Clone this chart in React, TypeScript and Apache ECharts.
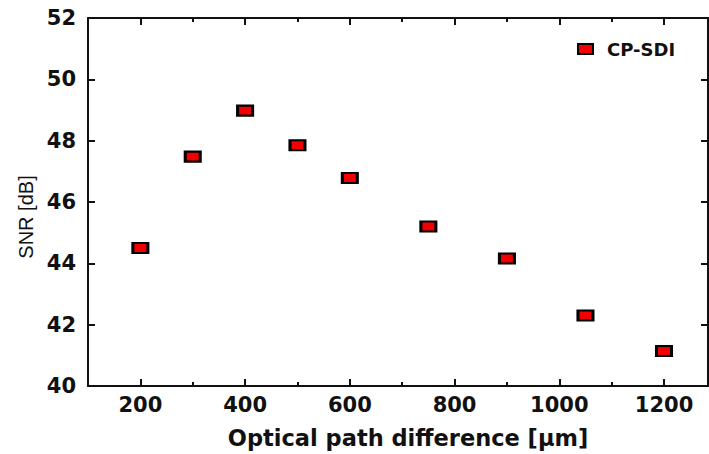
import React, { useEffect, useRef } from "react";
import * as echarts from "echarts";

const opd = [200, 300, 400, 500, 600, 750, 900, 1050, 1200];
const snr = [44.5, 47.48, 48.98, 47.85, 46.78, 45.2, 44.16, 42.3, 41.14];
const xMajorTicks = [200, 400, 600, 800, 1000, 1200];
const xMinorTicks = [300, 500, 700, 900, 1100];
const seriesName = "CP-SDI";
const xTitle = "Optical path difference [\u03bcm]";
const yTitle = "SNR [dB]";

export default function App() {
  const ref = useRef<HTMLDivElement>(null);
  useEffect(() => {
    if (!ref.current) return;
    const chart = echarts.init(ref.current, undefined, { renderer: "svg" });
    const grid = { left: 88, right: 1, top: 18, bottom: 67 };
    const lineStyle = { color: "#111", width: 2 };
    const xBase = { type: "value", min: 100, max: 1284, splitLine: { show: false } };
    chart.setOption({
      animation: false,
      backgroundColor: "#fff",
      grid,
      legend: {
        data: [seriesName],
        left: 572,
        top: 35,
        itemWidth: 15,
        itemHeight: 10,
        icon: "rect",
        textStyle: {
          fontFamily: "DejaVu Sans",
          fontWeight: "bold",
          fontSize: 18,
          color: "#111",
          padding: [0, 0, 0, 9],
        },
      },
      xAxis: [
        {
          ...xBase,
          position: "bottom",
          name: xTitle,
          nameLocation: "middle",
          nameGap: 40,
          nameTextStyle: {
            fontFamily: "DejaVu Sans",
            fontWeight: "bold",
            fontSize: 22.5,
            color: "#111",
            padding: [0, 0, 0, 20],
          },
          axisLine: { show: true, onZero: false, lineStyle },
          axisTick: { show: true, inside: true, length: 7, lineStyle, customValues: xMajorTicks },
          axisLabel: {
            show: true,
            margin: 8,
            fontFamily: "DejaVu Sans",
            fontWeight: "bold",
            fontSize: 21,
            color: "#111",
            customValues: xMajorTicks,
            formatter: (v: number) => String(v),
          },
        },
        {
          ...xBase,
          position: "bottom",
          axisLine: { show: false },
          axisTick: { show: true, inside: true, length: 4, lineStyle, customValues: xMinorTicks },
          axisLabel: { show: false },
        },
        {
          ...xBase,
          position: "top",
          axisLine: { show: true, onZero: false, lineStyle },
          axisTick: { show: true, inside: true, length: 7, lineStyle, customValues: xMajorTicks },
          axisLabel: { show: false },
        },
        {
          ...xBase,
          position: "top",
          axisLine: { show: false },
          axisTick: { show: true, inside: true, length: 4, lineStyle, customValues: xMinorTicks },
          axisLabel: { show: false },
        },
      ],
      yAxis: [
        {
          type: "value",
          min: 40,
          max: 52,
          interval: 2,
          position: "left",
          name: yTitle,
          nameLocation: "middle",
          nameGap: 51,
          nameTextStyle: {
            fontFamily: "Liberation Sans",
            fontSize: 20,
            color: "#111",
            padding: [0, 30, 0, 0],
          },
          splitLine: { show: false },
          axisLine: { show: true, onZero: false, lineStyle },
          axisTick: { show: true, inside: true, length: 7, lineStyle },
          axisLabel: {
            margin: 12,
            fontFamily: "DejaVu Sans",
            fontWeight: "bold",
            fontSize: 21,
            color: "#111",
          },
        },
        {
          type: "value",
          min: 40,
          max: 52,
          interval: 2,
          position: "right",
          splitLine: { show: false },
          axisLine: { show: true, onZero: false, lineStyle },
          axisTick: { show: true, inside: true, length: 7, lineStyle },
          axisLabel: { show: false },
        },
      ],
      series: [
        {
          name: seriesName,
          type: "scatter",
          xAxisIndex: 0,
          yAxisIndex: 0,
          symbol: "rect",
          symbolSize: [15, 10],
          itemStyle: { color: "#f00000", borderColor: "#000", borderWidth: 2.5, opacity: 1 },
          data: opd.map((x, i) => [x, snr[i]]),
        },
      ],
    });
    return () => chart.dispose();
  }, []);
  return <div ref={ref} style={{ width: 709, height: 454, position: "absolute", left: 0, top: 0 }} />;
}
